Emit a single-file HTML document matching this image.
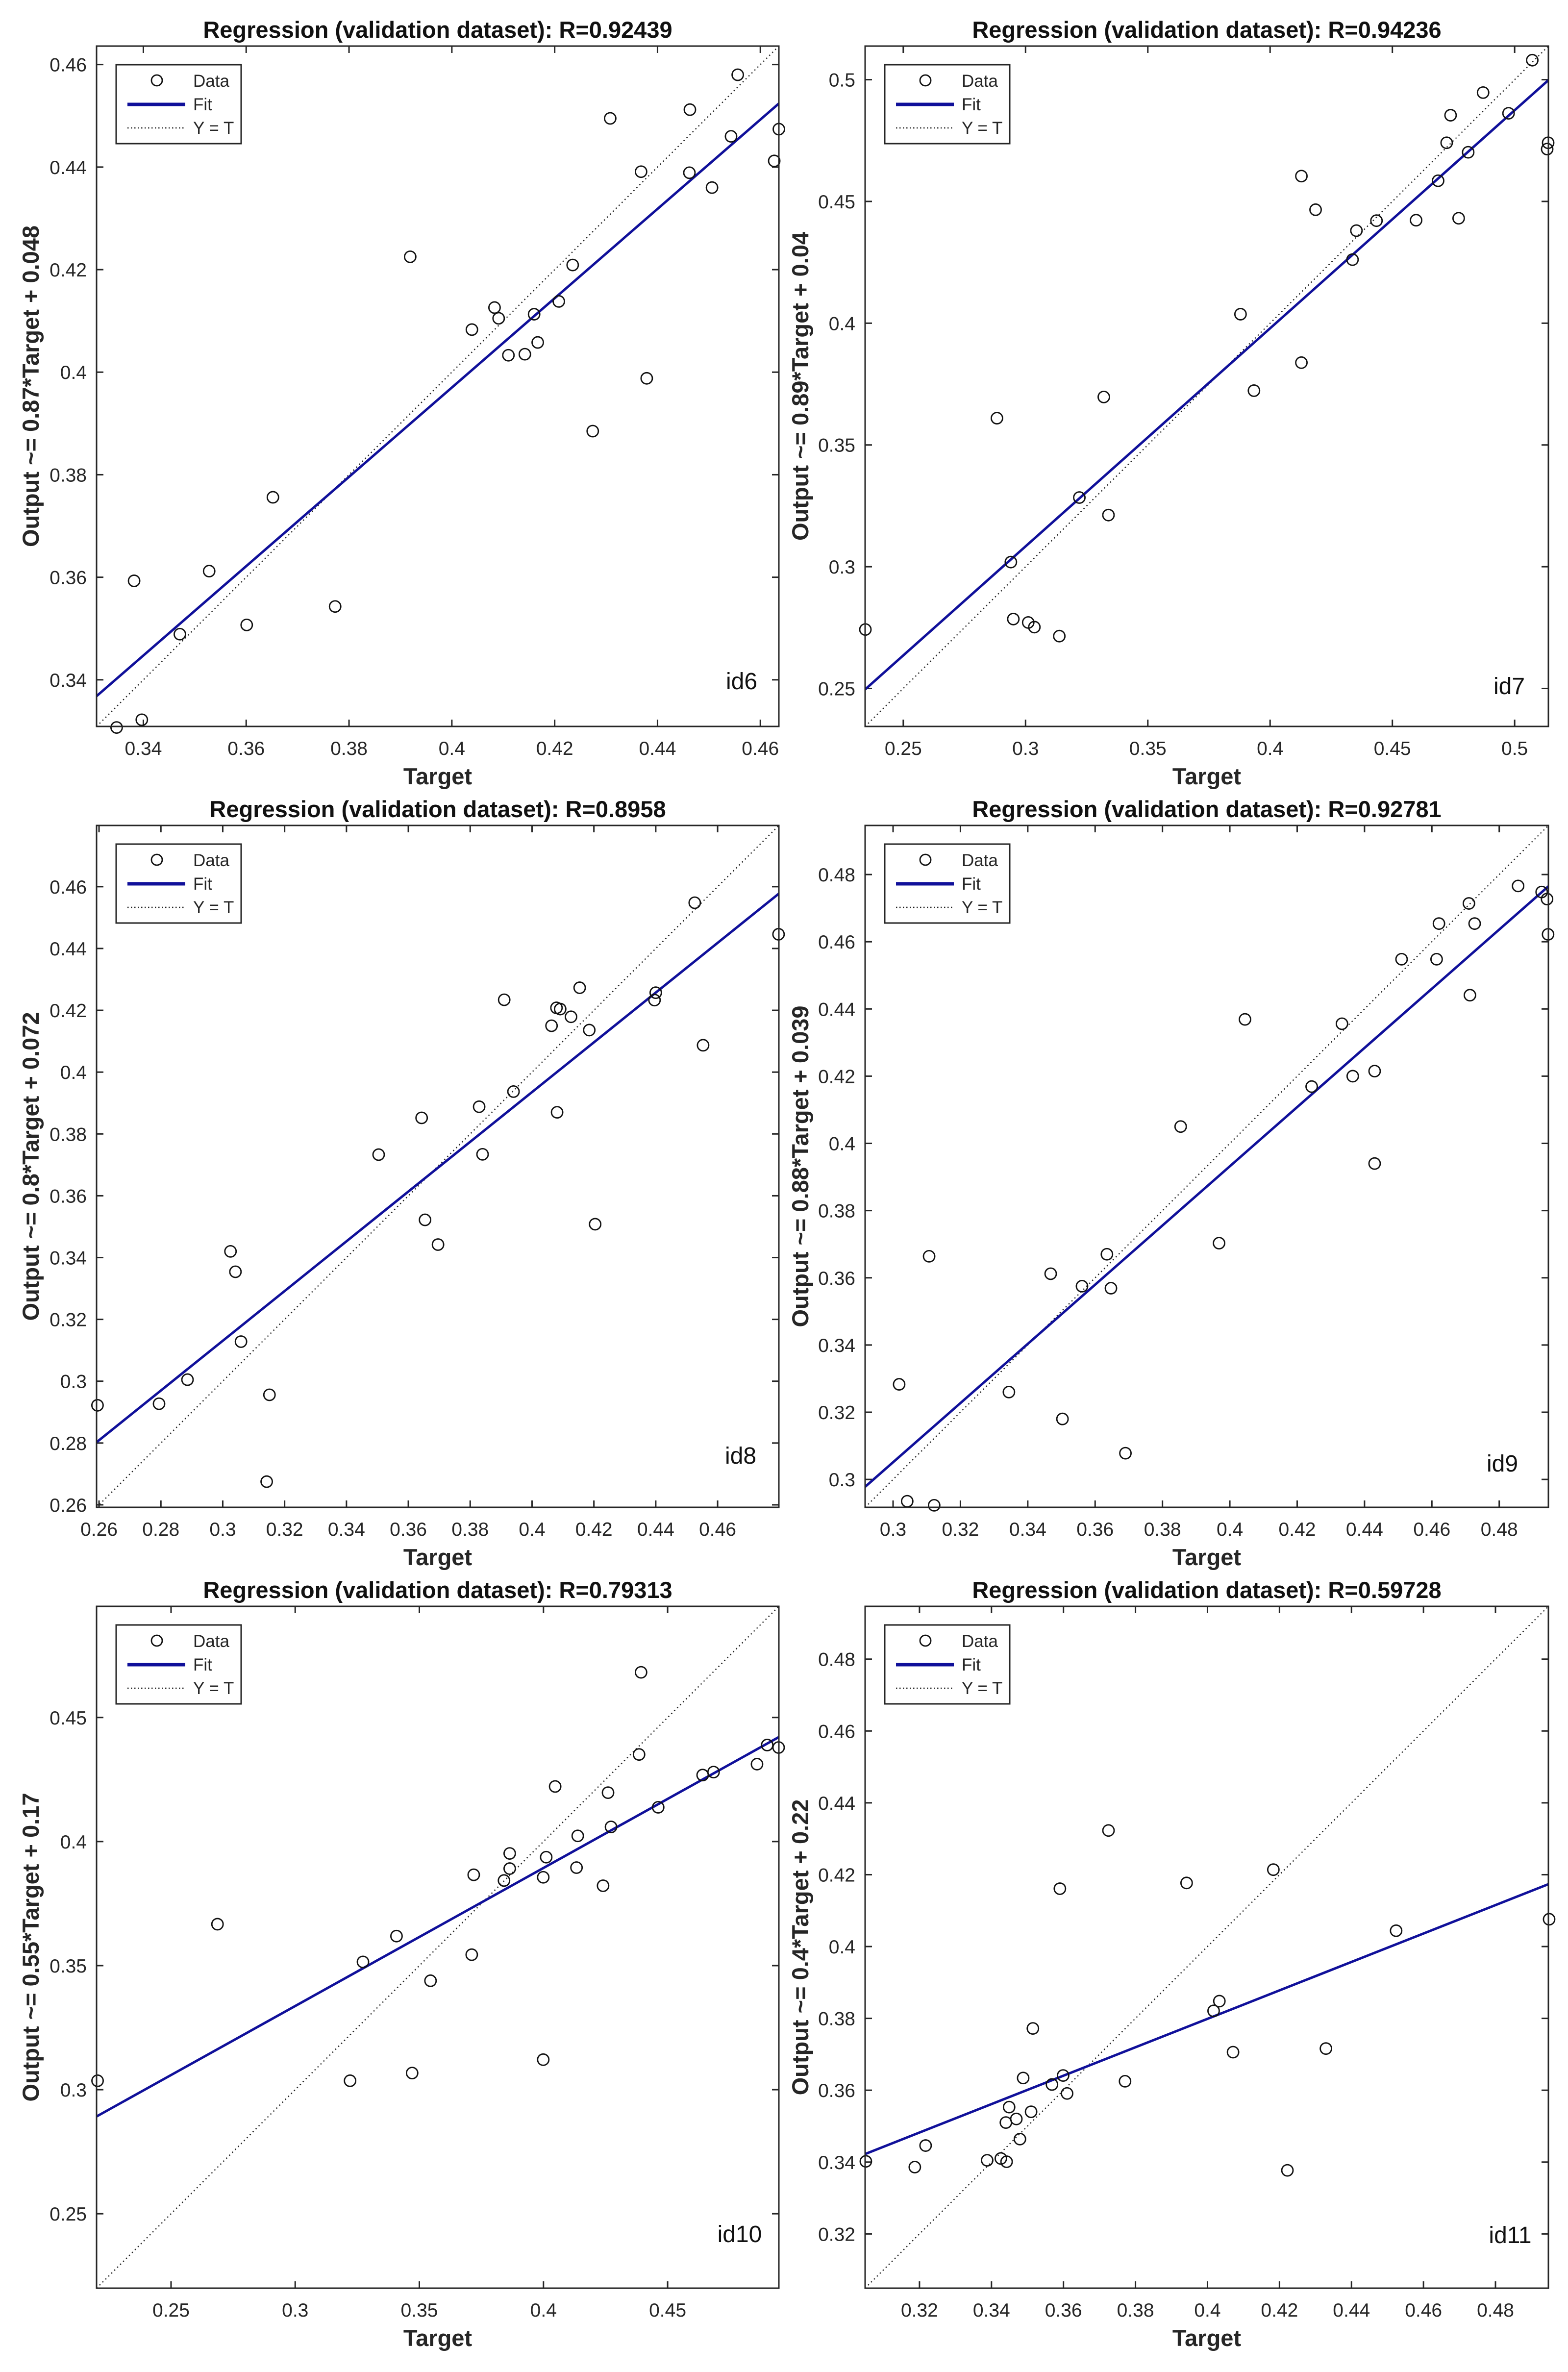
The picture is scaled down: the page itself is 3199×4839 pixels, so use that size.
<!DOCTYPE html>
<html><head><meta charset="utf-8"><style>
html,body{margin:0;padding:0;background:#fff;}
svg{display:block;}
text{font-family:"Liberation Sans",sans-serif;}
</style></head><body>
<svg id="fig" width="3199" height="4839" viewBox="0 0 3199 4839" xmlns="http://www.w3.org/2000/svg"></svg>
<script>
// ---- data (Target, Output) per panel ----
const id6T=[0.4556,0.4463,0.4308,0.4636,0.4543,0.4627,0.4368,0.4462,0.4506,0.3919,0.4235,0.4208,0.4083,0.4091,0.416,0.4039,0.4167,0.411,0.4142,0.4379,0.4274,0.3652,0.3382,0.3528,0.3773,0.3601,0.3471,0.3397,0.3348];
const id6O=[0.458,0.4512,0.4495,0.4474,0.446,0.4412,0.4391,0.4389,0.436,0.4225,0.4209,0.4138,0.4126,0.4105,0.4113,0.4083,0.4058,0.4033,0.4035,0.3988,0.3885,0.3756,0.3593,0.3612,0.3543,0.3507,0.3489,0.3322,0.3307];
const id7T=[0.5072,0.4871,0.4975,0.4738,0.4722,0.5137,0.5133,0.481,0.4687,0.4128,0.4186,0.4771,0.4597,0.4435,0.4353,0.4337,0.3879,0.4128,0.3934,0.332,0.2883,0.322,0.3339,0.294,0.295,0.3011,0.3036,0.3138,0.2345];
const id7O=[0.508,0.4947,0.4862,0.4854,0.4741,0.4741,0.4715,0.4702,0.4585,0.4604,0.4466,0.4431,0.4423,0.4421,0.438,0.4261,0.4037,0.3838,0.3723,0.3697,0.361,0.3284,0.3212,0.3019,0.2785,0.2771,0.2752,0.2715,0.2742];
const id8T=[0.4526,0.4797,0.4154,0.44,0.4396,0.391,0.4079,0.4091,0.4126,0.4063,0.4185,0.4553,0.394,0.3829,0.3643,0.4081,0.3504,0.384,0.3654,0.4204,0.3696,0.3025,0.3041,0.3059,0.2886,0.2794,0.2595,0.3151,0.3142];
const id8O=[0.4548,0.4446,0.4273,0.4257,0.4233,0.4234,0.4208,0.4204,0.4179,0.415,0.4136,0.4087,0.3937,0.3888,0.3852,0.387,0.3733,0.3734,0.3522,0.3508,0.3442,0.342,0.3354,0.3128,0.3005,0.2927,0.2922,0.2956,0.2675];
const id9T=[0.4856,0.4926,0.4942,0.471,0.4621,0.4727,0.4945,0.451,0.4614,0.4713,0.4045,0.4333,0.443,0.4365,0.4243,0.3854,0.443,0.3968,0.3107,0.3635,0.3468,0.3561,0.3647,0.3018,0.3344,0.3503,0.369,0.3042,0.3122];
const id9O=[0.4766,0.4748,0.4727,0.4714,0.4654,0.4654,0.4622,0.4548,0.4548,0.4441,0.4369,0.4356,0.4215,0.42,0.4169,0.405,0.394,0.3703,0.3664,0.367,0.3612,0.3575,0.3569,0.3283,0.326,0.318,0.3078,0.2935,0.2923];
const id10T=[0.4393,0.4901,0.4947,0.4385,0.486,0.4641,0.4685,0.4047,0.426,0.4462,0.4272,0.4138,0.3864,0.4011,0.3864,0.4133,0.3719,0.3841,0.3999,0.424,0.2687,0.3408,0.3273,0.3711,0.3545,0.3999,0.3471,0.3221,0.2204];
const id10O=[0.4682,0.4389,0.4379,0.4351,0.4312,0.4268,0.428,0.4222,0.4197,0.4138,0.4059,0.4023,0.3952,0.3937,0.3891,0.3895,0.3866,0.3843,0.3856,0.3822,0.3667,0.3619,0.3515,0.3544,0.3439,0.3121,0.3067,0.3036,0.3036];
const id11T=[0.3725,0.4183,0.3942,0.359,0.4949,0.4524,0.4033,0.4017,0.3515,0.4329,0.4071,0.3488,0.3599,0.3771,0.3568,0.361,0.3449,0.351,0.3469,0.344,0.3479,0.3217,0.3426,0.3388,0.3442,0.3051,0.3187,0.4222];
const id11O=[0.4323,0.4214,0.4177,0.4161,0.4076,0.4044,0.3848,0.3821,0.3772,0.3716,0.3706,0.3634,0.3641,0.3625,0.3616,0.3591,0.3553,0.354,0.352,0.351,0.3464,0.3446,0.341,0.3405,0.3401,0.3402,0.3386,0.3377];
// axis limits [lo, hi], fit slope/intercept, ticks
const limits=[[0.3309,0.4636],[0.2344,0.5138],[0.2592,0.4798],[0.2917,0.4946],[0.22,0.4948],[0.3049,0.4947]];
const fitSlope=[0.871,0.8955,0.8046,0.8807,0.5564,0.3957];
const fitIntercept=[0.0486,0.0397,0.0717,0.0409,0.1668,0.2216];
const tickVals=[[0.34,0.36,0.38,0.4,0.42,0.44,0.46],[0.25,0.3,0.35,0.4,0.45,0.5],[0.26,0.28,0.3,0.32,0.34,0.36,0.38,0.4,0.42,0.44,0.46],[0.3,0.32,0.34,0.36,0.38,0.4,0.42,0.44,0.46,0.48],[0.25,0.3,0.35,0.4,0.45],[0.32,0.34,0.36,0.38,0.4,0.42,0.44,0.46,0.48]];
const titles=["Regression (validation dataset): R=0.92439","Regression (validation dataset): R=0.94236","Regression (validation dataset): R=0.8958","Regression (validation dataset): R=0.92781","Regression (validation dataset): R=0.79313","Regression (validation dataset): R=0.59728"];
const yLabels=["Output ~= 0.87*Target + 0.048","Output ~= 0.89*Target + 0.04","Output ~= 0.8*Target + 0.072","Output ~= 0.88*Target + 0.039","Output ~= 0.55*Target + 0.17","Output ~= 0.4*Target + 0.22"];
const idLabels=["id6","id7","id8","id9","id10","id11"];
const seriesT=[id6T,id7T,id8T,id9T,id10T,id11T];
const seriesO=[id6O,id7O,id8O,id9O,id10O,id11O];

const NS="http://www.w3.org/2000/svg";
const svg=document.getElementById('fig');
const boxes=[[197,94,1589,1482],[1765,94,3159,1482],[197,1684,1589,3075],[1765,1684,3159,3075],[197,3277,1589,4668],[1765,3277,3159,4668]];
const idPos=[[76,92],[80,82],[78,105],[94,89],[80,110],[78,108]];
const ylabX=[63,1633];
function el(tag,attrs,parent){const e=document.createElementNS(NS,tag);for(const k in attrs)e.setAttribute(k,attrs[k]);(parent||svg).appendChild(e);return e;}
function fmt(v){return String(+v.toFixed(4));}

for(let p=0;p<6;p++){
  const [L,T,R,B]=boxes[p];const [lo,hi]=limits[p];
  const sx=v=>L+(v-lo)/(hi-lo)*(R-L);
  const sy=v=>B-(v-lo)/(hi-lo)*(B-T);
  const g=el('g',{});
  
  
  const cid='clip'+p;
  const cp=el('clipPath',{id:cid},g);el('rect',{x:L,y:T,width:R-L,height:B-T},cp);
  const tt=el('text',{x:(L+R)/2,y:T-17,'text-anchor':'middle','font-size':47,'font-weight':'bold',fill:'#111'},g);
  tt.textContent=titles[p];
  
  
  for(const v of tickVals[p]){
    const x=sx(v),y=sy(v);
    el('line',{x1:x,y1:B,x2:x,y2:B-14,stroke:'#262626','stroke-width':3},g);
    el('line',{x1:x,y1:T,x2:x,y2:T+14,stroke:'#262626','stroke-width':3},g);
    el('line',{x1:L,y1:y,x2:L+14,y2:y,stroke:'#262626','stroke-width':3},g);
    el('line',{x1:R,y1:y,x2:R-14,y2:y,stroke:'#262626','stroke-width':3},g);
    const xl=el('text',{x:x,y:B+58,'text-anchor':'middle','font-size':39,fill:'#262626'},g);
    xl.textContent=fmt(v);
    
    
    const yl=el('text',{x:L-20,y:y+14,'text-anchor':'end','font-size':39,fill:'#262626'},g);
    yl.textContent=fmt(v);
    
    
  }
  const xt=el('text',{x:(L+R)/2,y:B+118,'text-anchor':'middle','font-size':47,'font-weight':'bold',fill:'#262626'},g);
  xt.textContent='Target';
  
  
  const yx=ylabX[p%2]+16,yy=(T+B)/2;
  const yt=el('text',{x:yx,y:yy,'text-anchor':'middle','font-size':47,'font-weight':'bold',fill:'#262626',transform:`rotate(-90 ${yx} ${yy})`},g);
  yt.textContent=yLabels[p];
  
  
  const pc=el('g',{'clip-path':`url(#${cid})`},g);
  const yt1=el('line',{x1:sx(lo),y1:sy(lo),x2:sx(hi),y2:sy(hi),stroke:'#222','stroke-width':2.5,'stroke-dasharray':'2.5 6'},pc);
  
  
  const fl=el('line',{x1:sx(lo),y1:sy(fitSlope[p]*lo+fitIntercept[p]),x2:sx(hi),y2:sy(fitSlope[p]*hi+fitIntercept[p]),stroke:'#10109a','stroke-width':5},pc);
  
  
  const tArr=seriesT[p],oArr=seriesO[p];
  for(let i=0;i<tArr.length;i++){
    const c=el('circle',{cx:sx(tArr[i]),cy:sy(oArr[i]),r:11.5,fill:'none',stroke:'#111','stroke-width':2.8},g);
    
    
  }
  const bx=el('rect',{x:L,y:T,width:R-L,height:B-T,fill:'none',stroke:'#262626','stroke-width':3},g);
  
  
  const il=el('text',{x:R-idPos[p][0],y:B-idPos[p][1]+16,'text-anchor':'middle','font-size':48,fill:'#111'},g);
  il.textContent=idLabels[p];
  
  
  const lg=el('g',{},g);
  
  
  const lx=L+40,ly=T+38;
  el('rect',{x:lx,y:ly,width:255,height:161,fill:'#fff',stroke:'#262626','stroke-width':3},lg);
  el('circle',{cx:lx+83,cy:ly+32,r:11,fill:'none',stroke:'#111','stroke-width':2.8},lg);
  el('line',{x1:lx+23,y1:ly+81,x2:lx+141,y2:ly+81,stroke:'#10109a','stroke-width':7},lg);
  el('line',{x1:lx+23,y1:ly+129,x2:lx+141,y2:ly+129,stroke:'#222','stroke-width':2.5,'stroke-dasharray':'2.5 4.5'},lg);
  const names=['Data','Fit','Y = T'];
  for(let k=0;k<3;k++){
    const t=el('text',{x:lx+157,y:ly+45+k*48,'font-size':35,fill:'#262626'},lg);
    t.textContent=names[k];
    
    
  }
}
</script>
</body></html>
